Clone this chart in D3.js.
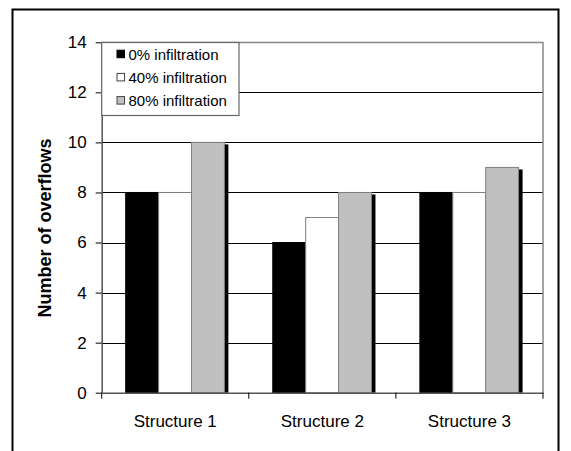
<!DOCTYPE html>
<html>
<head>
<meta charset="utf-8">
<script src="https://cdn.jsdelivr.net/npm/d3@7"></script>
<style>
  html, body { margin: 0; padding: 0; background: #fff; }
  svg { display: block; }
  text { font-family: Arial, "Liberation Sans", sans-serif; fill: #000; }
</style>
</head>
<body>
<svg id="chart" width="571" height="451"></svg>
<script>
// ---- data ----
const categories = ["Structure 1", "Structure 2", "Structure 3"];
const seriesNames = ["0% infiltration", "40% infiltration", "80% infiltration"];
const infil0  = [8, 6, 8];
const infil40 = [8, 7, 8];
const infil80 = [10, 8, 9];
const yTicks = [0, 2, 4, 6, 8, 10, 12, 14];
const yTitle = "Number of overflows";

const seriesValues = [infil0, infil40, infil80];
const fills = ["#000000", "#ffffff", "#c0c0c0"];
const strokes = ["#000000", "#808080", "#808080"];

const svg = d3.select("#chart");

// outer chart-area frame
svg.append("path")
  .attr("d", "M12.5,451 L12.5,9.5 L558.5,9.5 L558.5,451")
  .attr("fill", "none").attr("stroke", "#000").attr("stroke-width", 2);

const L = 101.7, R = 543, T = 42.3, B = 392.7;

const y = d3.scaleLinear().domain([0, 14]).range([B, T]);
const x0 = d3.scaleBand().domain(categories).range([L, R]).padding(0);
const x1 = d3.scaleBand().domain(d3.range(seriesNames.length))
  .range([x0.bandwidth() * 0.163, x0.bandwidth() * 0.834]).padding(0);

// gridlines
svg.append("g").selectAll("line")
  .data(yTicks.filter(v => v > 0 && v < 14))
  .join("line")
  .attr("x1", L).attr("x2", R)
  .attr("y1", d => Math.round(y(d)) + 0.5).attr("y2", d => Math.round(y(d)) + 0.5)
  .attr("stroke", "#000").attr("stroke-width", 1);

// plot border top/right
svg.append("path")
  .attr("d", `M${L},${Math.round(T) + 0.5} L${R},${Math.round(T) + 0.5} L${R},${B}`)
  .attr("fill", "none").attr("stroke", "#888").attr("stroke-width", 1.5);

// bar data
const bars = [];
categories.forEach((c, i) => {
  seriesValues.forEach((vals, s) => {
    bars.push({ cat: c, s: s, v: vals[i] });
  });
});

// shadows
svg.append("g").selectAll("rect")
  .data(bars)
  .join("rect")
  .attr("x", d => x0(d.cat) + x1(d.s) + 4)
  .attr("y", d => y(d.v) + 2)
  .attr("width", x1.bandwidth())
  .attr("height", d => B - y(d.v) - 2)
  .attr("fill", "#000");

// bars
svg.append("g").selectAll("rect")
  .data(bars)
  .join("rect")
  .attr("x", d => x0(d.cat) + x1(d.s))
  .attr("y", d => y(d.v))
  .attr("width", x1.bandwidth())
  .attr("height", d => B - y(d.v))
  .attr("fill", d => fills[d.s])
  .attr("stroke", d => strokes[d.s])
  .attr("stroke-width", 1);

// y axis
const yAxis = svg.append("g")
  .attr("transform", `translate(${L},0)`)
  .call(d3.axisLeft(y).tickValues(yTicks).tickSize(6).tickPadding(9).tickSizeOuter(0));
yAxis.select(".domain").attr("stroke", "#555").attr("stroke-width", 1.5);
yAxis.selectAll(".tick line").attr("stroke", "#000");
yAxis.selectAll(".tick text")
  .style("font-family", 'Arial, "Liberation Sans", sans-serif')
  .style("font-size", "17px").attr("fill", "#000");

// x axis
const xAxis = svg.append("g")
  .attr("transform", `translate(0,${B})`)
  .call(d3.axisBottom(x0).tickSize(0).tickPadding(22).tickSizeOuter(0));
xAxis.select(".domain").attr("stroke", "#555").attr("stroke-width", 1.5);
xAxis.selectAll(".tick text")
  .style("font-family", 'Arial, "Liberation Sans", sans-serif')
  .style("font-size", "17px").attr("fill", "#000");
// boundary tick marks
const bounds = categories.map(c => x0(c)).concat([x0.range()[1]]);
xAxis.append("g").selectAll("line")
  .data(bounds)
  .join("line")
  .attr("x1", d => d).attr("x2", d => d)
  .attr("y1", 0).attr("y2", 6)
  .attr("stroke", "#000");

// y title
svg.append("text")
  .attr("transform", "translate(50.5,228) rotate(-90)")
  .attr("text-anchor", "middle")
  .style("font-size", "18px").style("font-weight", "bold")
  .text(yTitle);

// legend
const lg = svg.append("g");
lg.append("rect")
  .attr("x", L).attr("y", Math.round(T) + 0.5)
  .attr("width", 239 - L).attr("height", 115.3 - T)
  .attr("fill", "#fff").attr("stroke", "#666").attr("stroke-width", 1.2);
const rowY = d3.scalePoint().domain(d3.range(seriesNames.length)).range([54.2, 100.6]);
const items = lg.selectAll("g.item").data(seriesNames).join("g").attr("class", "item");
items.append("rect")
  .attr("x", 117).attr("y", (d, i) => rowY(i) - 4)
  .attr("width", 7.5).attr("height", 7.5)
  .attr("fill", (d, i) => fills[i])
  .attr("stroke", (d, i) => i === 0 ? "#000" : "#444").attr("stroke-width", 1);
items.append("text")
  .attr("x", 128.5).attr("y", (d, i) => rowY(i) + 5.3)
  .style("font-size", "15px")
  .text(d => d);
</script>
</body>
</html>
